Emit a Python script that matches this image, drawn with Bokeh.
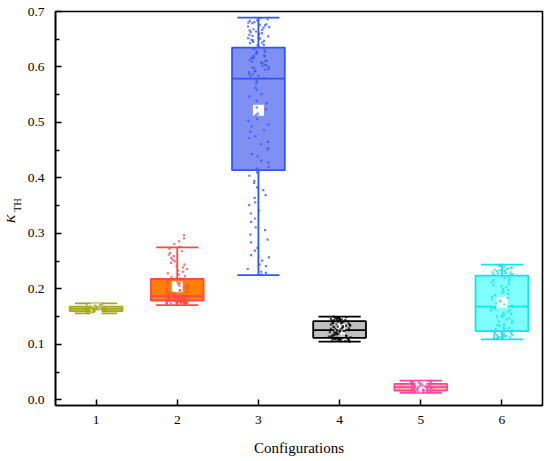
import math
import pandas as pd
from bokeh.plotting import figure
from bokeh.layouts import row
from bokeh.models import ColumnDataSource, FixedTicker, NumeralTickFormatter, Label, Range1d
from bokeh.transform import jitter
from bokeh.embed import file_html
from bokeh.resources import INLINE

# ---------------- data ----------------
configs = [1, 2, 3, 4, 5, 6]
whisker_low = [0.156, 0.171, 0.225, 0.105, 0.013, 0.109]
q1 = [0.160, 0.179, 0.414, 0.112, 0.017, 0.124]
median = [0.164, 0.187, 0.579, 0.126, 0.023, 0.168]
q3 = [0.168, 0.218, 0.635, 0.142, 0.029, 0.224]
whisker_high = [0.174, 0.275, 0.689, 0.150, 0.035, 0.244]
means = [0.164, 0.204, 0.522, 0.128, 0.024, 0.176]

pts1 = [0.157, 0.158, 0.159, 0.160, 0.160, 0.161, 0.161, 0.162, 0.162, 0.162, 0.163, 0.163,
        0.163, 0.163, 0.164, 0.164, 0.164, 0.164, 0.165, 0.165, 0.165, 0.165, 0.166, 0.166,
        0.166, 0.167, 0.167, 0.168, 0.168, 0.169, 0.170, 0.171, 0.172, 0.173, 0.159, 0.161,
        0.163, 0.165, 0.167, 0.170, 0.158, 0.166, 0.164, 0.162]
pts2 = [0.172, 0.173, 0.173, 0.174, 0.174, 0.175, 0.175, 0.175, 0.176, 0.176, 0.176, 0.177,
        0.177, 0.177, 0.178, 0.178, 0.178, 0.178, 0.174, 0.176, 0.177, 0.175, 0.173, 0.178,
        0.176, 0.179, 0.179, 0.180, 0.180, 0.180, 0.181, 0.181, 0.181, 0.182, 0.182, 0.182,
        0.183, 0.183, 0.183, 0.184, 0.184, 0.184, 0.185, 0.185, 0.185, 0.186, 0.186, 0.186,
        0.180, 0.182, 0.188, 0.189, 0.190, 0.191, 0.192, 0.193, 0.194, 0.195, 0.196, 0.197,
        0.198, 0.199, 0.200, 0.202, 0.203, 0.205, 0.206, 0.207, 0.209, 0.210, 0.211, 0.213,
        0.214, 0.216, 0.217, 0.219, 0.221, 0.223, 0.226, 0.228, 0.231, 0.233, 0.236, 0.239,
        0.241, 0.244, 0.247, 0.250, 0.253, 0.256, 0.259, 0.262, 0.265, 0.268, 0.272, 0.276,
        0.281, 0.286, 0.291, 0.297]
pts3 = [0.226, 0.229, 0.231, 0.236, 0.241, 0.244, 0.251, 0.257, 0.261, 0.269, 0.274, 0.284,
        0.289, 0.298, 0.306, 0.311, 0.321, 0.327, 0.336, 0.341, 0.351, 0.356, 0.364, 0.369,
        0.378, 0.383, 0.391, 0.395, 0.404, 0.410, 0.417, 0.420, 0.428, 0.431, 0.439, 0.443,
        0.451, 0.454, 0.461, 0.465, 0.472, 0.475, 0.483, 0.486, 0.493, 0.496, 0.503, 0.506,
        0.513, 0.516, 0.524, 0.527, 0.535, 0.539, 0.547, 0.551, 0.559, 0.563, 0.571, 0.575,
        0.580, 0.583, 0.584, 0.587, 0.588, 0.591, 0.592, 0.595, 0.596, 0.599, 0.600, 0.603,
        0.604, 0.607, 0.608, 0.611, 0.612, 0.615, 0.616, 0.619, 0.620, 0.623, 0.624, 0.627,
        0.628, 0.631, 0.632, 0.634, 0.598, 0.611, 0.636, 0.639, 0.640, 0.643, 0.644, 0.647,
        0.648, 0.651, 0.652, 0.655, 0.656, 0.659, 0.660, 0.663, 0.664, 0.667, 0.668, 0.671,
        0.672, 0.675, 0.676, 0.679, 0.680, 0.683, 0.684, 0.686, 0.688, 0.645, 0.661, 0.677,
        0.602, 0.617, 0.626, 0.653, 0.666, 0.681, 0.593, 0.609, 0.621, 0.649, 0.658, 0.673]
pts4 = [0.105, 0.106, 0.106, 0.107, 0.107, 0.108, 0.108, 0.109, 0.109, 0.110, 0.110, 0.111,
        0.111, 0.111, 0.112, 0.112, 0.113, 0.113, 0.114, 0.115, 0.115, 0.116, 0.117, 0.117,
        0.118, 0.119, 0.119, 0.120, 0.121, 0.121, 0.122, 0.123, 0.123, 0.124, 0.125, 0.125,
        0.126, 0.126, 0.127, 0.128, 0.128, 0.129, 0.130, 0.131, 0.131, 0.132, 0.133, 0.134,
        0.134, 0.135, 0.136, 0.136, 0.137, 0.138, 0.139, 0.139, 0.140, 0.141, 0.141, 0.142,
        0.142, 0.143, 0.143, 0.144, 0.144, 0.145, 0.145, 0.146, 0.146, 0.147, 0.147, 0.148,
        0.148, 0.149, 0.149, 0.150, 0.138, 0.124, 0.113, 0.132]
pts5 = [0.013, 0.014, 0.014, 0.015, 0.015, 0.016, 0.016, 0.016, 0.017, 0.017, 0.018, 0.018,
        0.019, 0.019, 0.020, 0.020, 0.021, 0.021, 0.022, 0.022, 0.023, 0.023, 0.023, 0.024,
        0.024, 0.025, 0.025, 0.026, 0.026, 0.027, 0.027, 0.028, 0.028, 0.029, 0.029, 0.030,
        0.030, 0.031, 0.031, 0.032, 0.032, 0.033, 0.033, 0.034, 0.035, 0.021, 0.025, 0.019,
        0.027, 0.023]
pts6 = [0.109, 0.110, 0.110, 0.111, 0.111, 0.112, 0.112, 0.113, 0.113, 0.114, 0.114, 0.115,
        0.115, 0.116, 0.116, 0.117, 0.117, 0.118, 0.119, 0.119, 0.120, 0.121, 0.122, 0.122,
        0.123, 0.125, 0.127, 0.128, 0.130, 0.132, 0.134, 0.135, 0.137, 0.139, 0.141, 0.143,
        0.145, 0.147, 0.149, 0.150, 0.152, 0.154, 0.155, 0.157, 0.159, 0.161, 0.162, 0.164,
        0.166, 0.167, 0.170, 0.172, 0.174, 0.177, 0.179, 0.181, 0.184, 0.186, 0.189, 0.191,
        0.193, 0.196, 0.198, 0.200, 0.203, 0.205, 0.207, 0.209, 0.212, 0.214, 0.216, 0.218,
        0.220, 0.222, 0.223, 0.225, 0.226, 0.226, 0.227, 0.228, 0.228, 0.229, 0.230, 0.230,
        0.231, 0.232, 0.232, 0.233, 0.234, 0.235, 0.235, 0.236, 0.237, 0.238, 0.239, 0.240,
        0.241, 0.242, 0.243, 0.244]
points = [pts1, pts2, pts3, pts4, pts5, pts6]

edge_colors = ["#a6a61c", "#ff4848", "#3355f5", "#000000", "#ff45a8", "#10e6e6"]
fill_colors = ["#dede88", "#ff8000", "#7f90f2", "#c0c0c0", "#ffc484", "#80ffff"]

y_ticks = [0.0, 0.1, 0.2, 0.3, 0.4, 0.5, 0.6, 0.7]
y_minor = [0.05, 0.15, 0.25, 0.35, 0.45, 0.55, 0.65]

# ---------------- sources ----------------
box_w = 0.65
cap_w = 0.52
box = pd.DataFrame(dict(cfg=configs, low=whisker_low, q1=q1, med=median, q3=q3,
                        high=whisker_high, mean=means, edge=edge_colors, fill=fill_colors))
box["bl"] = box["cfg"] - box_w / 2
box["br"] = box["cfg"] + box_w / 2
box["cl"] = box["cfg"] - cap_w / 2
box["cr"] = box["cfg"] + cap_w / 2
bsrc = ColumnDataSource(box)

rows = []
for c, pts, col in zip(configs, points, edge_colors):
    for v in pts:
        rows.append((c, v, col))
pdf = pd.DataFrame(rows, columns=["cfg", "val", "color"])
psrc = ColumnDataSource(pdf)

# ---------------- figure ----------------
FONT = "Liberation Serif"
H = 460
TOP, BOTTOM = 11, 55
p = figure(width=524, height=H, output_backend="svg", toolbar_location=None,
           x_range=Range1d(0.5, 6.5), y_range=Range1d(-0.01, 0.7),
           min_border_left=31, min_border_right=6, min_border_top=TOP, min_border_bottom=BOTTOM)
p.background_fill_color = "white"
p.border_fill_color = "white"
p.outline_line_color = "black"
p.outline_line_width = 1.6
p.xgrid.visible = False
p.ygrid.visible = False

# whisker stems
p.segment(x0="cfg", y0="low", x1="cfg", y1="high", source=bsrc, line_color="edge", line_width=1.8)
# boxes
p.quad(left="bl", right="br", bottom="q1", top="q3", source=bsrc,
       fill_color="fill", line_color="edge", line_width=1.8)
# medians
p.segment(x0="bl", y0="med", x1="br", y1="med", source=bsrc, line_color="edge", line_width=1.8)
# caps
p.segment(x0="cl", y0="high", x1="cr", y1="high", source=bsrc, line_color="edge", line_width=1.8)
p.segment(x0="cl", y0="low", x1="cr", y1="low", source=bsrc, line_color="edge", line_width=1.8)
# means
p.scatter(x="cfg", y="mean", source=bsrc, marker="square", size=11,
          fill_color="white", line_color=None)
# raw points
p.scatter(x=jitter("cfg", width=0.27, distribution="uniform"), y="val", source=psrc,
          marker="square", size=2.2, fill_color="color", line_color=None, fill_alpha=0.75)

# axes
p.xaxis.ticker = FixedTicker(ticks=configs)
p.yaxis.ticker = FixedTicker(ticks=y_ticks, minor_ticks=y_minor)
p.yaxis.formatter = NumeralTickFormatter(format="0.0")
for ax in (p.xaxis, p.yaxis):
    ax.axis_line_color = "black"
    ax.axis_line_width = 1.6
    ax.major_tick_line_color = "black"
    ax.major_tick_line_width = 1.5
    ax.major_tick_in = 6
    ax.major_tick_out = 0
    ax.minor_tick_in = 4
    ax.minor_tick_out = 0
    ax.minor_tick_line_color = "black"
    ax.minor_tick_line_width = 1.3
    ax.major_label_text_font = FONT
    ax.major_label_text_font_size = "13.5px"
    ax.major_label_text_color = "black"
p.xaxis.minor_tick_line_color = None
p.xaxis.major_label_standoff = 10
p.yaxis.major_label_standoff = 11
p.xaxis.axis_label = "Configurations"
p.xaxis.axis_label_text_font = FONT
p.xaxis.axis_label_text_font_size = "15px"
p.xaxis.axis_label_text_font_style = "normal"
p.xaxis.axis_label_text_color = "black"
p.xaxis.axis_label_standoff = 13

# ---------------- y label strip: K_TH ----------------
# the row aligns frames, so this strip's frame spans the same rows as the main frame;
# its y range is chosen so that one unit is one pixel measured from the page top.
lab = figure(width=24, height=H, output_backend="svg", toolbar_location=None,
             x_range=Range1d(0, 24), y_range=Range1d(H - (H - BOTTOM), H - TOP),
             x_axis_location=None, y_axis_location=None, title=None,
             min_border=0, min_border_left=0, min_border_right=0,
             min_border_top=TOP, min_border_bottom=BOTTOM)
lab.grid.visible = False
lab.outline_line_color = None
lab.background_fill_color = "white"
lab.border_fill_color = "white"
lab.add_layout(Label(x=9.7, y=H - 218.5, text="K", angle=math.pi / 2,
                     text_font=FONT, text_font_style="italic", text_font_size="13px",
                     text_align="center", text_baseline="middle", text_color="black"))
lab.add_layout(Label(x=16.5, y=H - 204.5, text="TH", angle=math.pi / 2,
                     text_font=FONT, text_font_size="10px",
                     text_align="center", text_baseline="middle", text_color="black"))

layout = row(lab, p, spacing=0)
open("out.html", "w").write(file_html(layout, INLINE))
